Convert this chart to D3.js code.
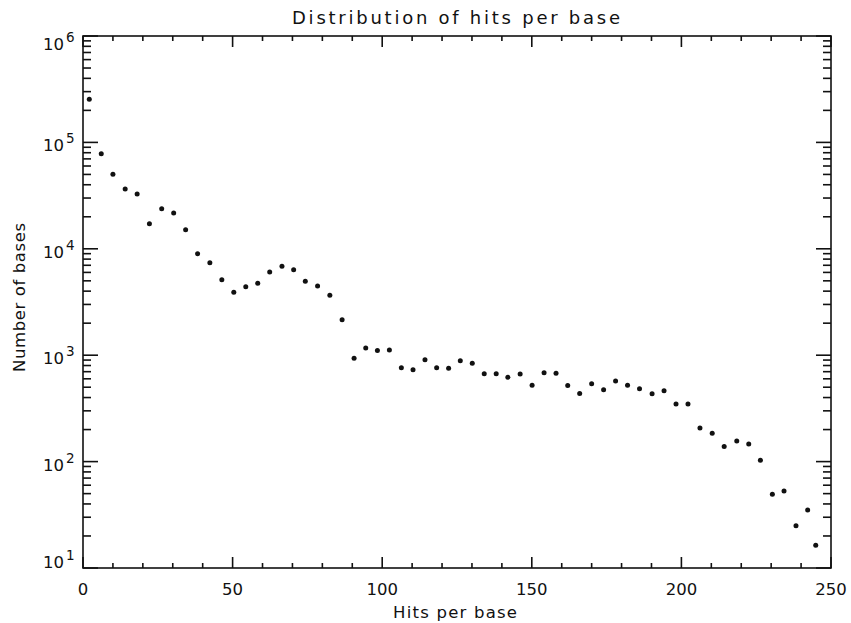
<!DOCTYPE html>
<html>
<head>
<meta charset="utf-8">
<script src="https://cdn.jsdelivr.net/npm/d3@7"></script>
<style>
  body { margin: 0; background: #fff; }
  svg text { font-family: "DejaVu Sans", sans-serif; fill: #111; }
</style>
</head>
<body>
<svg id="chart"></svg>
<script>
// hits per base (bin centre) and number of bases
const hits = [2.1, 6.1, 10.0, 14.1, 18.1, 22.2, 26.3, 30.3, 34.3, 38.3,
  42.4, 46.4, 50.4, 54.4, 58.4, 62.4, 66.5, 70.4, 74.3, 78.4,
  82.5, 86.6, 90.6, 94.5, 98.4, 102.4, 106.4, 110.3, 114.3, 118.2,
  122.2, 126.1, 130.1, 134.1, 138.1, 142.0, 146.1, 150.1, 154.1, 158.1,
  162.0, 166.0, 170.0, 174.0, 178.0, 182.0, 186.0, 190.2, 194.2, 198.2,
  202.2, 206.2, 210.3, 214.3, 218.5, 222.5, 226.4, 230.4, 234.3, 238.3,
  242.2, 244.9];
const bases = [254000, 78300, 50100, 36500, 32700, 17200, 23800, 21700, 15100, 9000,
  7400, 5130, 3900, 4400, 4740, 6050, 6850, 6370, 4960, 4470,
  3660, 2150, 935, 1170, 1110, 1120, 763, 731, 907, 763,
  753, 887, 839, 670, 670, 620, 666, 521, 685, 676,
  519, 436, 540, 474, 572, 521, 484, 434, 464, 348,
  348, 207, 185, 139, 156, 146, 103, 49.3, 53.0, 25.0,
  35.1, 16.4];
const xTicks = [0, 50, 100, 150, 200, 250];
const yExponents = [1, 2, 3, 4, 5, 6];

const width = 851, height = 623;
const margin = { top: 36, right: 20, bottom: 55, left: 83 };

const svg = d3.select("#chart").attr("width", width).attr("height", height);

const x = d3.scaleLinear().domain([0, 250]).range([margin.left, 831]);
const y = d3.scaleLog().domain([10, 1e6]).range([568, margin.top]);

const x0 = x.range()[0], x1 = x.range()[1];
const y0 = y.range()[0], y1 = y.range()[1];

// minor ticks every 10 on x, 2..9 on each decade of y
const xMinor = d3.range(0, 251, 10).filter(v => v % 50 !== 0);
const yMinor = [];
yExponents.slice(0, -1).forEach(e => {
  for (let k = 2; k <= 9; k++) yMinor.push(k * Math.pow(10, e));
});
const yMajor = yExponents.map(e => Math.pow(10, e));

const ax = svg.append("g").attr("stroke", "#111").attr("stroke-width", 1.6);

// frame
ax.append("rect")
  .attr("x", x0).attr("y", y1)
  .attr("width", x1 - x0).attr("height", y0 - y1)
  .attr("fill", "none");

// x ticks bottom & top
xTicks.concat(xMinor).forEach(v => {
  const len = xTicks.includes(v) ? 11 : 5;
  ax.append("line").attr("x1", x(v)).attr("x2", x(v)).attr("y1", y0).attr("y2", y0 - len);
  ax.append("line").attr("x1", x(v)).attr("x2", x(v)).attr("y1", y1).attr("y2", y1 + len);
});

// y ticks left & right
yMajor.concat(yMinor).forEach(v => {
  const len = yMajor.includes(v) ? 15 : 8;
  ax.append("line").attr("y1", y(v)).attr("y2", y(v)).attr("x1", x0).attr("x2", x0 + len);
  ax.append("line").attr("y1", y(v)).attr("y2", y(v)).attr("x1", x1).attr("x2", x1 - len);
});

// x tick labels
svg.selectAll(".xlab").data(xTicks).enter().append("text")
  .attr("class", "xlab")
  .attr("x", d => x(d)).attr("y", 595)
  .attr("text-anchor", "middle")
  .attr("font-size", "16.5px")
  .text(d => d);

// y tick labels 10^n, kept inside the frame at both ends
const labBase = d => Math.min(Math.max(y(Math.pow(10, d)) + 9, y1 + 14), y0);
svg.selectAll(".ylab").data(yExponents).enter().append("text")
  .attr("class", "ylab")
  .attr("x", 64).attr("y", labBase)
  .attr("text-anchor", "end")
  .attr("font-size", "16.5px")
  .text("10");
svg.selectAll(".yexp").data(yExponents).enter().append("text")
  .attr("class", "yexp")
  .attr("x", 66).attr("y", d => labBase(d) - 8)
  .attr("font-size", "13.5px")
  .text(d => d);

// titles
svg.append("text").attr("x", 456).attr("y", 24)
  .attr("text-anchor", "middle").attr("font-size", "18px")
  .attr("textLength", 328).attr("lengthAdjust", "spacing")
  .text("Distribution of hits per base");
svg.append("text").attr("x", 455).attr("y", 618)
  .attr("text-anchor", "middle").attr("font-size", "16.5px")
  .attr("textLength", 124).attr("lengthAdjust", "spacing")
  .text("Hits per base");
svg.append("text").attr("transform", "rotate(-90)")
  .attr("x", -297.5).attr("y", 25)
  .attr("text-anchor", "middle").attr("font-size", "16.5px")
  .attr("textLength", 149).attr("lengthAdjust", "spacing")
  .text("Number of bases");

// points
const pts = hits.map((h, i) => ({ h: h, n: bases[i] }));
svg.selectAll(".pt").data(pts).enter().append("circle")
  .attr("class", "pt")
  .attr("cx", d => x(d.h)).attr("cy", d => y(d.n))
  .attr("r", 2.5)
  .attr("fill", "#111");
</script>
</body>
</html>
